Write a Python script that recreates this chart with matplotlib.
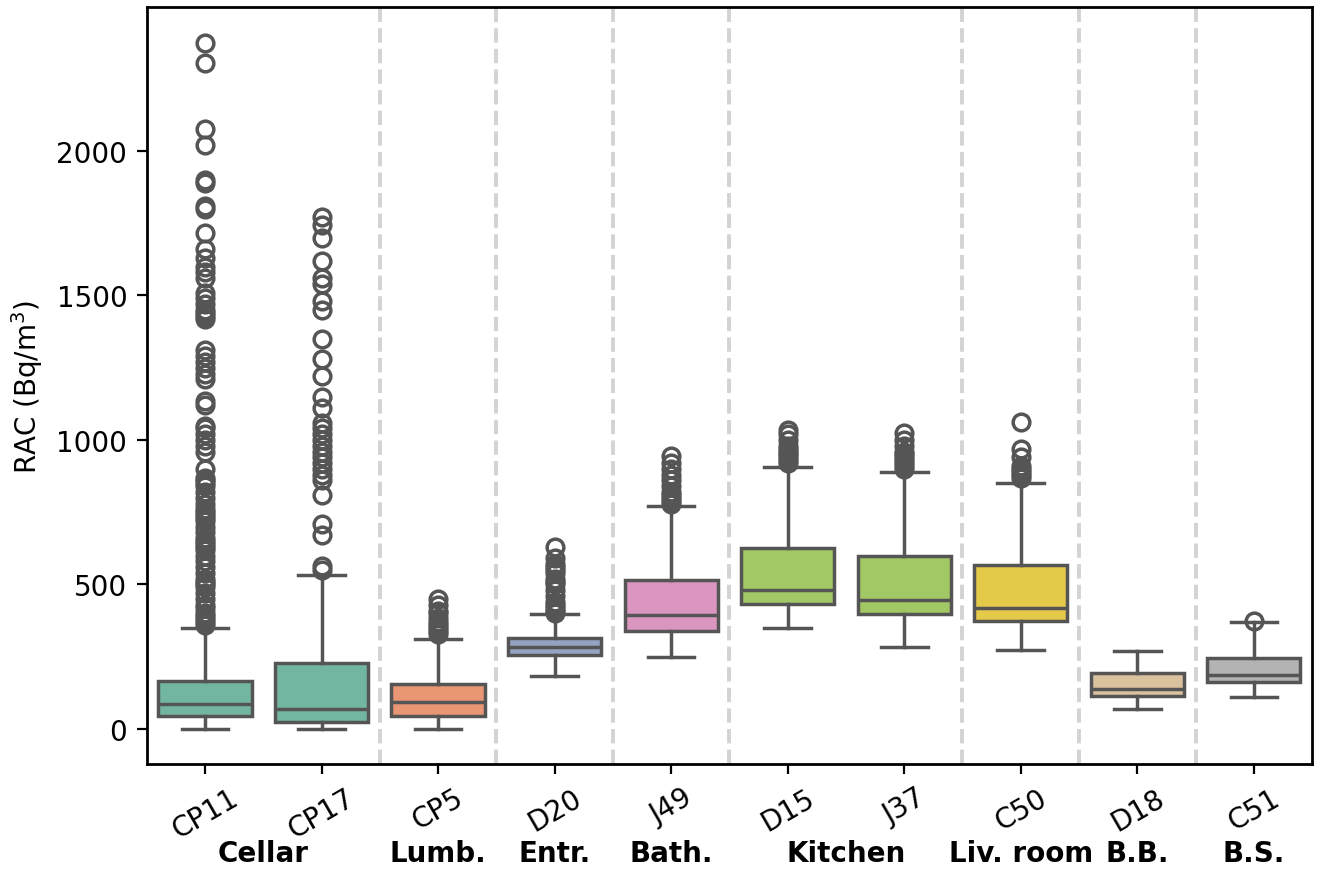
import colorsys
import numpy as np
import matplotlib.pyplot as plt
import matplotlib.colors as mcolors

# sensor ids and the room each one sits in
sensors = ['CP11', 'CP17', 'CP5', 'D20', 'J49', 'D15', 'J37', 'C50', 'D18', 'C51']
room_names = ['Cellar', 'Lumb.', 'Entr.', 'Bath.', 'Kitchen', 'Liv. room', 'B.B.', 'B.S.']
room_x = [0.5, 2, 3, 4, 5.5, 7, 8, 9]

# box statistics (Bq/m3)
whislo = [0, 0, 0, 183, 250, 349, 283, 273, 69, 110]
q1 = [46, 24, 45, 256, 340, 432, 398, 375, 115, 162]
med = [86, 69, 94, 284, 394, 482, 447, 418, 138, 187]
q3 = [167, 228, 156, 315, 517, 626, 598, 568, 194, 246]
whishi = [349, 533, 311, 397, 772, 908, 889, 852, 271, 371]

fliers_cp11 = [2375, 2305, 2075, 2020, 1900, 1890, 1810, 1800, 1715, 1660, 1630, 1600,
               1580, 1560, 1510, 1490, 1470, 1450, 1440, 1430, 1420, 1310, 1290, 1270,
               1250, 1230, 1210, 1135, 1120, 1050, 1040, 1020, 1000, 980, 960, 900, 870,
               860, 850, 840, 820, 800, 780, 760, 750, 740, 730, 720, 700, 680, 660, 650,
               640, 630, 620, 600, 580, 560, 540, 520, 510, 500, 490, 470, 450, 430, 420,
               400, 390, 380, 370, 360]
fliers_cp17 = [1770, 1745, 1700, 1620, 1560, 1540, 1480, 1450, 1350, 1280, 1220, 1150,
               1110, 1060, 1040, 1020, 1000, 980, 960, 940, 920, 900, 880, 860, 810, 710,
               670, 565, 550]
fliers_cp5 = [330, 340, 350, 360, 370, 385, 400, 410, 430, 450]
fliers_d20 = [400, 410, 420, 430, 440, 460, 480, 500, 510, 520, 540, 550, 560, 570, 590, 630]
fliers_j49 = [780, 790, 800, 810, 820, 840, 860, 880, 900, 920, 945]
fliers_d15 = [920, 930, 940, 950, 960, 970, 980, 1000, 1020, 1035]
fliers_j37 = [900, 910, 920, 930, 940, 950, 960, 980, 1000, 1025]
fliers_c50 = [870, 880, 890, 900, 910, 940, 968, 1063]
fliers_d18 = []
fliers_c51 = [373]
fliers = [fliers_cp11, fliers_cp17, fliers_cp5, fliers_d20, fliers_j49,
          fliers_d15, fliers_j37, fliers_c50, fliers_d18, fliers_c51]

# Set2 colours per room
base_colors = ['#66c2a5', '#66c2a5', '#fc8d62', '#8da0cb', '#e78ac3',
               '#a6d854', '#a6d854', '#ffd92f', '#e5c494', '#b3b3b3']
edge = '#555555'


def desat(c, prop=0.75):
    h, l, s = colorsys.rgb_to_hls(*mcolors.to_rgb(c))
    return colorsys.hls_to_rgb(h, l, s * prop)


colors = [desat(c) for c in base_colors]

stats = []
for i in range(len(sensors)):
    stats.append(dict(label=sensors[i], whislo=whislo[i], q1=q1[i], med=med[i],
                      q3=q3[i], whishi=whishi[i], fliers=fliers[i]))

lw = 1.25
fig = plt.figure(figsize=(6.61, 4.35), dpi=200)
ax = fig.add_axes([0.111, 0.1207, 0.8815, 0.8701])

bp = ax.bxp(stats, positions=np.arange(len(sensors)), widths=0.8, patch_artist=True,
            boxprops=dict(edgecolor=edge, linewidth=lw),
            medianprops=dict(color=edge, linewidth=lw),
            whiskerprops=dict(color=edge, linewidth=lw),
            capprops=dict(color=edge, linewidth=lw),
            capwidths=0.4,
            flierprops=dict(marker='o', markersize=6, markerfacecolor='none',
                            markeredgecolor=edge, markeredgewidth=lw))
for patch, c in zip(bp['boxes'], colors):
    patch.set_facecolor(c)

# dashed lines between rooms
for xb in [1.5, 2.5, 3.5, 4.5, 6.5, 7.5, 8.5]:
    ax.axvline(xb, color='lightgray', linestyle='--', linewidth=1.4, zorder=0)

ax.set_xlim(-0.5, 9.5)
ax.set_ylim(-121, 2498)
ax.set_yticks([0, 500, 1000, 1500, 2000])
ax.set_xticks(np.arange(len(sensors)))
ax.set_xticklabels(sensors, rotation=30, ha='center')
ax.set_ylabel('RAC (Bq/m$^3$)')
for s in ax.spines.values():
    s.set_linewidth(1.0)

# room names under the sensor labels
for name, xp in zip(room_names, room_x):
    ax.text(xp, -0.118, name, transform=ax.get_xaxis_transform(), ha='center',
            va='center', fontsize=10, fontweight='bold')

fig.savefig('out.png', dpi=200)
